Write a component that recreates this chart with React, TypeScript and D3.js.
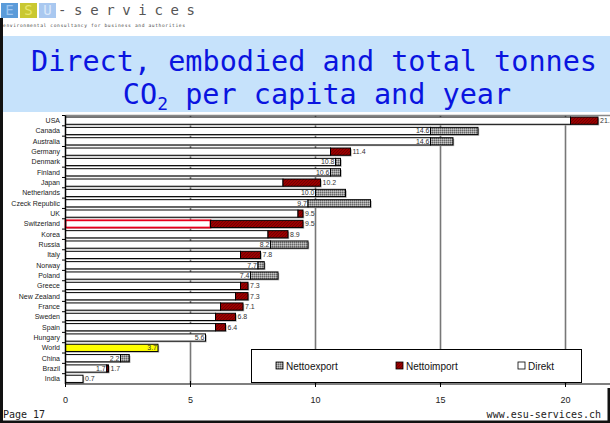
import React from "react";
import * as d3 from "d3";

// countries, top to bottom
const countries = [
  "USA", "Canada", "Australia", "Germany", "Denmark", "Finland", "Japan",
  "Netherlands", "Czeck Republic", "UK", "Switzerland", "Korea", "Russia",
  "Italy", "Norway", "Poland", "Greece", "New Zealand", "France", "Sweden",
  "Spain", "Hungary", "World", "China", "Brazil", "India",
];
// t CO2 per capita
const direkt = [20.2, 14.6, 14.6, 10.6, 10.8, 10.6, 8.7, 10.0, 9.7, 9.3, 5.8, 8.1, 8.2, 7.0, 7.7, 7.4, 7.0, 6.8, 6.2, 6.0, 6.0, 5.6, 3.7, 2.2, 1.65, 0.7];
const nettoimport = [1.1, 0, 0, 0.8, 0, 0, 1.5, 0, 0, 0.2, 3.7, 0.8, 0, 0.8, 0, 0, 0.3, 0.5, 0.9, 0.8, 0.4, 0, 0, 0, 0.07, 0];
const nettoexport = [0, 1.9, 0.9, 0, 0.2, 0.4, 0, 1.2, 2.5, 0, 0, 0, 1.5, 0, 0.25, 1.1, 0, 0, 0, 0, 0, 0, 0, 0.35, 0, 0];
const labelInside = ["", "14.6", "14.6", "", "10.8", "10.6", "", "10.0", "9.7", "", "", "", "8.2", "", "7.7", "7.4", "", "", "", "", "", "5.6", "3.7", "2.2", "1.7", ""];
const labelOutside = ["21.3", "", "", "11.4", "", "", "10.2", "", "", "9.5", "9.5", "8.9", "", "7.8", "", "", "7.3", "7.3", "7.1", "6.8", "6.4", "", "", "", "1.7", "0.7"];
const xTicks = [0, 5, 10, 15, 20];
const legendItems = ["Nettoexport", "Nettoimport", "Direkt"];

export default function App() {
  const W = 610, H = 423;
  const x = d3.scaleLinear().domain([0, 22]).range([65.5, 615.5]);
  const y = d3.scaleBand().domain(countries).range([115.5, 384]).paddingInner(0.3).paddingOuter(0.15);
  const bh = y.bandwidth();
  const label = { fontFamily: "Liberation Sans, Arial, sans-serif", fontSize: 7, fill: "#333" };

  return (
    <svg width={W} height={H} style={{ position: "absolute", left: 0, top: 0, background: "#fff" }}>
      <defs>
        <pattern id="redHatch" width="3" height="3" patternUnits="userSpaceOnUse">
          <rect width="3" height="3" fill="#9a0000" />
          <path d="M0,3 L3,0" stroke="#6a0000" strokeWidth="0.8" />
        </pattern>
        <pattern id="grayHatch" width="2" height="2" patternUnits="userSpaceOnUse">
          <rect width="2" height="2" fill="#9a9a9a" />
          <rect width="1" height="1" fill="#666" />
          <rect x="1" y="1" width="1" height="1" fill="#c4c4c4" />
        </pattern>
      </defs>

      {/* logo */}
      <rect x={1} y={3} width={17} height={15} fill="#5b9bd9" />
      <rect x={20} y={3} width={17} height={15} fill="#c9c832" />
      <rect x={39} y={3} width={17} height={15} fill="#a9c8f0" />
      <text x={9.5} y={15} textAnchor="middle" fontFamily="DejaVu Sans Mono" fontSize={14} fill="#9fc6f0">E</text>
      <text x={28.5} y={15} textAnchor="middle" fontFamily="DejaVu Sans Mono" fontSize={14} fill="#e9e770">S</text>
      <text x={47.5} y={15} textAnchor="middle" fontFamily="DejaVu Sans Mono" fontSize={14} fill="#dbe8fa">U</text>
      <text x={58} y={15} fontFamily="DejaVu Sans Mono" fontSize={14} fill="#555" textLength={137}>-services</text>
      <text x={3} y={27} fontFamily="DejaVu Sans Mono" fontSize={4.6} fill="#444" textLength={182}>environmental consultancy for business and authorities</text>

      {/* title band */}
      <rect x={3} y={36} width={607} height={76} fill="#c6e2fb" />
      <text x={314} y={71} textAnchor="middle" fontFamily="DejaVu Sans Mono" fontSize={28} fill="#0a14e0" textLength={566} lengthAdjust="spacingAndGlyphs">Direct, embodied and total tonnes</text>
      <text x={317} y={104} textAnchor="middle" fontFamily="DejaVu Sans Mono" fontSize={28.5} fill="#0a14e0">
        CO<tspan fontSize={18} dy={6}>2</tspan><tspan dy={-6}> per capita and year</tspan>
      </text>

      {/* plot frame top */}
      <line x1={65.5} x2={610} y1={115.5} y2={115.5} stroke="#888" strokeWidth={1.5} />
      {/* gridlines */}
      {xTicks.slice(1).map((t) => (
        <line key={t} x1={x(t)} x2={x(t)} y1={115.5} y2={384} stroke="#777" strokeWidth={1.6} />
      ))}

      {/* bars */}
      {countries.map((c, i) => {
        const y0 = y(c)!;
        const isWorld = c === "World";
        const isCH = c === "Switzerland";
        const x0 = x(0), x1 = x(direkt[i]);
        const ext = nettoimport[i] > 0 ? nettoimport[i] : nettoexport[i];
        const x2 = x(direkt[i] + ext);
        return (
          <g key={c}>
            <rect x={x0 + 1.2} y={y0 + 1.2} width={x2 - x0} height={bh} fill="#aaa" />
            <rect x={x0} y={y0} width={x1 - x0} height={bh}
              fill={isWorld ? "#ffff00" : "#fff"} stroke={isCH ? "#e8001c" : "#000"} strokeWidth={isCH ? 1.8 : 1} />
            {ext > 0 && (
              <rect x={x1} y={y0} width={x2 - x1} height={bh}
                fill={nettoimport[i] > 0 ? "url(#redHatch)" : "url(#grayHatch)"} stroke="#000" strokeWidth={1} />
            )}
            {labelInside[i] && (
              <text {...label} x={x1 - 1} y={y0 + bh / 2 + 2.5} textAnchor="end">{labelInside[i]}</text>
            )}
            {labelOutside[i] && (
              <text {...label} x={x2 + 2} y={y0 + bh / 2 + 2.5}>{labelOutside[i]}</text>
            )}
          </g>
        );
      })}

      {/* y axis */}
      <line x1={65.5} x2={65.5} y1={115.5} y2={384} stroke="#000" strokeWidth={1.5} />
      {countries.map((c) => (
        <g key={c}>
          <line x1={62} x2={65.5} y1={y(c)! - (y.step() - bh) / 2} y2={y(c)! - (y.step() - bh) / 2} stroke="#000" />
          <text {...label} fill="#222" x={60} y={y(c)! + bh / 2 + 2.5} textAnchor="end">{c}</text>
        </g>
      ))}

      {/* x axis */}
      <line x1={65.5} x2={610} y1={384} y2={384} stroke="#000" strokeWidth={1.2} />
      {xTicks.map((t) => (
        <g key={t}>
          <line x1={x(t)} x2={x(t)} y1={381} y2={387} stroke="#000" />
          <text x={x(t)} y={403} textAnchor="middle" fontFamily="Liberation Sans, Arial, sans-serif" fontSize={9} fill="#222">{t}</text>
        </g>
      ))}

      {/* legend */}
      <rect x={251.5} y={349.5} width={330} height={33} fill="#fff" stroke="#000" />
      {legendItems.map((name, i) => {
        const lx = [276, 396, 518][i];
        const fill = ["url(#grayHatch)", "url(#redHatch)", "#fff"][i];
        return (
          <g key={name}>
            <rect x={lx} y={362} width={7} height={7} fill={fill} stroke="#000" strokeWidth={0.8} />
            <text x={lx + 10} y={369.5} fontFamily="Liberation Sans, Arial, sans-serif" fontSize={10} fill="#111">{name}</text>
          </g>
        );
      })}

      {/* footer and frame */}
      <text x={3} y={418} fontFamily="DejaVu Sans Mono" fontSize={10} fill="#222">Page 17</text>
      <text x={601} y={418} textAnchor="end" fontFamily="DejaVu Sans Mono" fontSize={10} fill="#222">www.esu-services.ch</text>
      <rect x={0} y={18} width={3} height={405} fill="#111" />
      <rect x={0} y={420.5} width={610} height={2.5} fill="#111" />
      <rect x={607.5} y={388} width={2.5} height={35} fill="#111" />
    </svg>
  );
}
